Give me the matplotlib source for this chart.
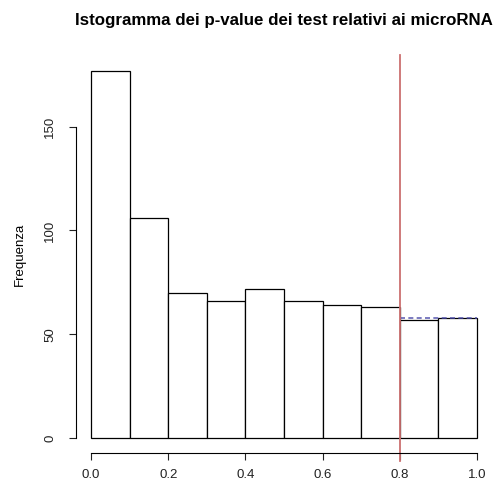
import numpy as np
import matplotlib.pyplot as plt

plt.rcParams['font.family'] = ['Liberation Sans', 'DejaVu Sans']

# bin edges and counts
bin_edges = np.round(np.arange(0, 1.01, 0.1), 2)
counts = [177, 106, 70, 66, 72, 66, 64, 63, 57, 58]
threshold = 0.8
tail_level = 57.7

fig = plt.figure(figsize=(4.95, 4.87), dpi=100)
ax = fig.add_axes([0.1527, 0.0704, 0.842, 0.8146])

ax.bar(bin_edges[:-1], counts, width=np.diff(bin_edges), align='edge',
       facecolor='white', edgecolor='black', linewidth=0.9)

ax.plot([threshold, 1.0], [tail_level, tail_level], color='#4848a8',
        linestyle=(0, (3, 2)), linewidth=1.2, alpha=0.85)
ax.plot([threshold, threshold], [1.002, -0.02], transform=ax.get_xaxis_transform(),
        color='#cc7070', linewidth=1.3, clip_on=False)

ymax = max(counts)
ax.set_xlim(-0.04, 1.04)
ax.set_ylim(-0.04 * ymax, ymax * 1.04)

for s in ['top', 'right']:
    ax.spines[s].set_visible(False)
ax.spines['left'].set_bounds(0, 150)
ax.spines['bottom'].set_bounds(0, 1)

ax.set_xticks([0, 0.2, 0.4, 0.6, 0.8, 1.0])
ax.set_xticklabels(['0.0', '0.2', '0.4', '0.6', '0.8', '1.0'])
ax.set_yticks([0, 50, 100, 150])
ax.tick_params(axis='both', length=5, width=0.8, labelsize=9.5, colors='#222222')
ax.tick_params(axis='x', pad=7)
ax.tick_params(axis='y', pad=9)
plt.setp(ax.get_yticklabels(), rotation=90, va='center')

ax.set_ylabel('Frequenza', fontsize=9.5, labelpad=13)
ax.set_title('Istogramma dei p-value dei test relativi ai microRNA',
             fontsize=12.2, fontweight='bold', pad=22)

fig.savefig('out.png', dpi=100)
